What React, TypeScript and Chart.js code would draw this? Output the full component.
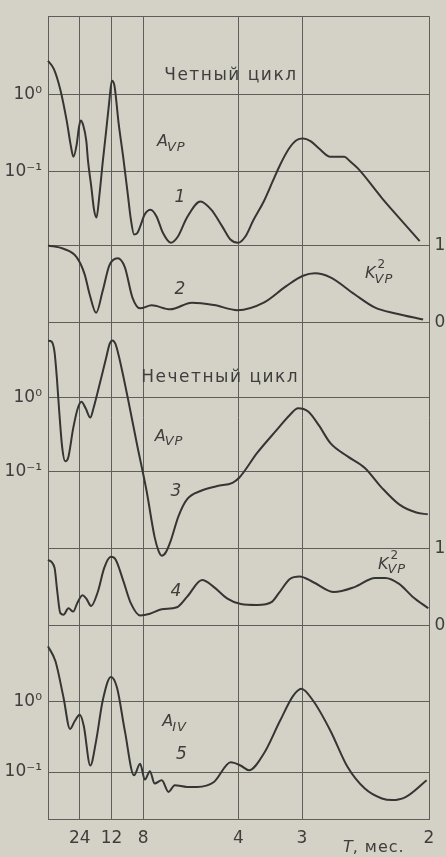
import React, { useEffect, useRef } from 'react';
import { Chart, registerables } from 'chart.js';

Chart.register(...registerables);

// ---------------- data ----------------
// x axis: frequency 1/T (1/month); tick labels show the period T in months
const periodTickLabels = ['', '24', '12', '8', '4', '3', '2'];
const periodTickMonths = [Infinity, 24, 12, 8, 4, 3, 2];

// curve 1: A_VP, even cycle (log scale)
const freq1 = [0, 0.0076, 0.0162, 0.0247, 0.0298, 0.0334, 0.0375, 0.0408, 0.0430, 0.0459,
  0.0503, 0.0524, 0.0568, 0.0604, 0.0636, 0.0675, 0.0717, 0.0761, 0.0804, 0.0838,
  0.0872, 0.0927, 0.0987, 0.1048, 0.1088, 0.1129, 0.1169, 0.1209, 0.1267, 0.1347,
  0.1426, 0.1506, 0.1612, 0.1705, 0.1824, 0.2001, 0.2142, 0.2288, 0.2394, 0.2496,
  0.2590, 0.2693, 0.2831, 0.2951, 0.3045, 0.3157, 0.3260, 0.3347, 0.3445, 0.3553,
  0.3706, 0.3888, 0.3960, 0.4067, 0.4382, 0.4608, 0.4878];
const amp1 = [2.75, 2.17, 1.16, 0.448, 0.219, 0.155, 0.219, 0.385, 0.461, 0.409,
  0.247, 0.14, 0.063, 0.0316, 0.0249, 0.0493, 0.128, 0.322, 0.81, 1.52,
  1.31, 0.421, 0.153, 0.0493, 0.0234, 0.015, 0.0155, 0.019, 0.0272, 0.0316,
  0.0256, 0.0159, 0.0117, 0.0141, 0.0249, 0.0404, 0.0316, 0.019, 0.0129, 0.0117,
  0.0141, 0.0228, 0.0404, 0.0748, 0.121, 0.194, 0.254, 0.267, 0.247, 0.2,
  0.155, 0.155, 0.136, 0.109, 0.0448, 0.0247, 0.0123];

// curve 2: K²_VP, even cycle (0..1)
const freq2 = [0, 0.0204, 0.0375, 0.048, 0.0546, 0.0632, 0.0717, 0.0804, 0.0914, 0.1008,
  0.1107, 0.1209, 0.136, 0.1603, 0.189, 0.2178, 0.2487, 0.2831, 0.3131, 0.3347,
  0.3504, 0.3706, 0.4023, 0.4293, 0.4563, 0.4923];
const coh2 = [1.0, 0.957, 0.849, 0.63, 0.37, 0.13, 0.41, 0.74, 0.835, 0.72,
  0.33, 0.187, 0.226, 0.174, 0.261, 0.23, 0.164, 0.261, 0.478, 0.608,
  0.64, 0.587, 0.369, 0.196, 0.121, 0.043];

// curve 3: A_VP, odd cycle (log scale)
const freq3 = [0, 0.0047, 0.0085, 0.0117, 0.0149, 0.0187, 0.0225, 0.0264, 0.0331, 0.0391,
  0.0439, 0.0494, 0.0555, 0.0597, 0.0653, 0.0761, 0.0810, 0.0845, 0.0884, 0.0927,
  0.1048, 0.1169, 0.1294, 0.1400, 0.1453, 0.1493, 0.1546, 0.1603, 0.1714, 0.1824,
  0.2001, 0.2222, 0.2421, 0.2509, 0.2745, 0.3002, 0.3174, 0.3282, 0.3414, 0.3553,
  0.3706, 0.3932, 0.4158, 0.4382, 0.4608, 0.4834, 0.4984];
const amp3 = [5.85, 5.7, 4.17, 1.81, 0.616, 0.21, 0.139, 0.154, 0.388, 0.719,
  0.88, 0.719, 0.54, 0.719, 1.2, 3.36, 5.33, 5.9, 5.33, 3.72,
  0.98, 0.232, 0.0552, 0.0131, 0.0085, 0.00744, 0.00824, 0.0112, 0.0255, 0.0426,
  0.0552, 0.0644, 0.0713, 0.0832, 0.18, 0.368, 0.585, 0.719, 0.65, 0.426,
  0.244, 0.162, 0.113, 0.061, 0.0365, 0.0283, 0.0268];

// curve 4: K²_VP, odd cycle (0..1)
const freq4 = [0, 0.0085, 0.012, 0.0162, 0.0204, 0.0268, 0.0331, 0.0382, 0.0452, 0.0503,
  0.0566, 0.0653, 0.0739, 0.0825, 0.0887, 0.0987, 0.1088, 0.1209, 0.1338, 0.1493,
  0.1692, 0.1824, 0.2023, 0.2178, 0.2355, 0.253, 0.2745, 0.2938, 0.3024, 0.3174,
  0.3302, 0.3482, 0.3752, 0.4023, 0.4293, 0.4428, 0.4608, 0.4788, 0.4991];
const coh4 = [0.85, 0.748, 0.454, 0.159, 0.139, 0.222, 0.18, 0.285, 0.391, 0.348,
  0.252, 0.433, 0.748, 0.887, 0.852, 0.58, 0.285, 0.13, 0.151, 0.209,
  0.235, 0.369, 0.588, 0.496, 0.348, 0.277, 0.265, 0.306, 0.411, 0.6,
  0.634, 0.559, 0.432, 0.496, 0.613, 0.613, 0.537, 0.369, 0.222];

// curve 5: A_IV (log scale)
const freq5 = [0, 0.0098, 0.0204, 0.0289, 0.0353, 0.0417, 0.0469, 0.0555, 0.0632, 0.0717,
  0.0826, 0.0906, 0.1008, 0.1129, 0.1209, 0.1271, 0.1338, 0.1398, 0.1493, 0.1582,
  0.1663, 0.1824, 0.1957, 0.2178, 0.2398, 0.2526, 0.2638, 0.2831, 0.3045, 0.3217,
  0.3324, 0.3482, 0.3706, 0.3932, 0.4158, 0.4382, 0.4517, 0.4698, 0.4969];
const amp5 = [6.2, 3.8, 1.15, 0.411, 0.538, 0.655, 0.458, 0.124, 0.281, 1.03,
  2.26, 1.59, 0.389, 0.0898, 0.131, 0.078, 0.103, 0.0685, 0.0764, 0.0521,
  0.0649, 0.0614, 0.0614, 0.0722, 0.138, 0.124, 0.106, 0.182, 0.538, 1.22,
  1.54, 1.03, 0.389, 0.118, 0.0582, 0.042, 0.0398, 0.0443, 0.0764];

const logTickValues = [1, 0.1];
const logTickLabels = ['10⁰', '10⁻¹'];
const linTickValues = [0, 1];
const linTickLabels = ['0', '1'];

const cycleTitles = ['Четный цикл', 'Нечетный цикл'];
const curveNumbers = ['1', '2', '3', '4', '5'];
const axisTitleItalic = 'T';
const axisTitleRest = ', мес.';

// ---------------- layout / style ----------------
const BG = '#d4d1c7';
const INK = '#353533';
const GRID = '#5e5e5a';
const TEXT = '#3e3e3c';
const FAMILY = '"DejaVu Sans", "Liberation Sans", sans-serif';

const panels = [
  { id: 'y1', kind: 'log', min: 0.0108, max: 10.52, h: 231 },
  { id: 'y2', kind: 'lin', min: 0, max: 1, h: 78 },
  { id: 'y3', kind: 'log', min: 0.0094, max: 10.19, h: 227 },
  { id: 'y4', kind: 'lin', min: 0, max: 1, h: 78 },
  { id: 'y5', kind: 'log', min: 0.0214, max: 12.3, h: 195 },
];

const series = [
  { f: freq1, v: amp1, axis: 'y1' },
  { f: freq2, v: coh2, axis: 'y2' },
  { f: freq3, v: amp3, axis: 'y3' },
  { f: freq4, v: coh4, axis: 'y4' },
  { f: freq5, v: amp5, axis: 'y5' },
];

// text anchors in data coordinates
const titleAnchors = [
  { axis: 'y1', x: 0.240, y: 1.76 },
  { axis: 'y3', x: 0.226, y: 1.84 },
];
const numberAnchors = [
  { axis: 'y1', x: 0.173, y: 0.0452 },
  { axis: 'y2', x: 0.173, y: 0.436 },
  { axis: 'y3', x: 0.168, y: 0.0548 },
  { axis: 'y4', x: 0.168, y: 0.433 },
  { axis: 'y5', x: 0.175, y: 0.175 },
];
const symbols = [
  { base: 'A', sub: 'VP', sup: '', axis: 'y1', x: 0.143, y: 0.239 },
  { base: 'K', sub: 'VP', sup: '2', axis: 'y2', x: 0.416, y: 0.628 },
  { base: 'A', sub: 'VP', sup: '', axis: 'y3', x: 0.140, y: 0.299 },
  { base: 'K', sub: 'VP', sup: '2', axis: 'y4', x: 0.433, y: 0.78 },
  { base: 'A', sub: 'IV', sup: '', axis: 'y5', x: 0.150, y: 0.513 },
];
const axisTitleAnchor = { x: 0.387 };

const textPlugin = {
  id: 'figureText',
  afterDatasetsDraw(chart: any) {
    const { ctx, scales, chartArea } = chart;
    const X = scales.x;
    ctx.save();
    ctx.fillStyle = TEXT;
    ctx.textBaseline = 'middle';

    // cycle titles
    ctx.font = `17px ${FAMILY}`;
    ctx.textAlign = 'center';
    (ctx as any).letterSpacing = '1.5px';
    cycleTitles.forEach((t, i) => {
      const a = titleAnchors[i];
      ctx.fillText(t, X.getPixelForValue(a.x), scales[a.axis].getPixelForValue(a.y));
    });
    (ctx as any).letterSpacing = '0px';

    // curve numbers
    ctx.font = `italic 17px ${FAMILY}`;
    curveNumbers.forEach((t, i) => {
      const a = numberAnchors[i];
      ctx.fillText(t, X.getPixelForValue(a.x), scales[a.axis].getPixelForValue(a.y));
    });

    // symbols with sub/superscripts
    ctx.textAlign = 'left';
    symbols.forEach((s) => {
      const px = X.getPixelForValue(s.x);
      const py = scales[s.axis].getPixelForValue(s.y);
      ctx.font = `italic 16px ${FAMILY}`;
      ctx.fillText(s.base, px, py);
      const w = ctx.measureText(s.base).width;
      ctx.font = `italic 13px ${FAMILY}`;
      (ctx as any).letterSpacing = '1px';
      ctx.fillText(s.sub, px + w - 1, py + 5);
      (ctx as any).letterSpacing = '0px';
      if (s.sup) {
        ctx.font = `12px ${FAMILY}`;
        ctx.fillText(s.sup, px + w + 2, py - 9);
      }
    });

    // right-hand labels for the 0..1 panels
    ctx.font = `17px ${FAMILY}`;
    ctx.textAlign = 'center';
    panels.forEach((p) => {
      if (p.kind !== 'lin') return;
      const sc = scales[p.id];
      linTickValues.forEach((v, i) => {
        ctx.fillText(linTickLabels[i], chartArea.right + 11, sc.getPixelForValue(v));
      });
    });

    // axis title
    const tx = X.getPixelForValue(axisTitleAnchor.x);
    const ty = X.bottom - 9;
    ctx.textAlign = 'left';
    ctx.font = `italic 16px ${FAMILY}`;
    ctx.fillText(axisTitleItalic, tx, ty);
    const tw = ctx.measureText(axisTitleItalic).width;
    ctx.font = `16px ${FAMILY}`;
    (ctx as any).letterSpacing = '1px';
    ctx.fillText(axisTitleRest, tx + tw, ty);
    ctx.restore();
  },
};

export default function App() {
  const ref = useRef<HTMLCanvasElement>(null);

  useEffect(() => {
    document.body.style.margin = '0';
    document.body.style.background = BG;
    Chart.defaults.font.family = FAMILY;

    const scales: any = {
      x: {
        type: 'linear',
        position: 'bottom',
        min: 0,
        max: 0.5,
        afterBuildTicks: (s: any) => {
          s.ticks = periodTickMonths.map((p) => ({ value: 1 / p }));
        },
        afterFit: (s: any) => {
          s.height = 38;
        },
        grid: { color: GRID, lineWidth: 1, drawTicks: false },
        border: { color: GRID, width: 1 },
        ticks: {
          autoSkip: false,
          maxRotation: 0,
          padding: 9,
          color: TEXT,
          font: { family: FAMILY, size: 17 },
          callback: (_v: any, i: number) => periodTickLabels[i],
        },
      },
    };

    panels.forEach((p, idx) => {
      const isLog = p.kind === 'log';
      scales[p.id] = {
        type: isLog ? 'logarithmic' : 'linear',
        position: 'left',
        stack: 'panels',
        stackWeight: p.h,
        weight: panels.length - idx,
        min: p.min,
        max: p.max,
        afterBuildTicks: (s: any) => {
          const vals = isLog ? [...logTickValues] : [...linTickValues];
          if (idx === 0) vals.unshift(p.max);
          s.ticks = vals.map((value) => ({ value }));
        },
        afterFit: (s: any) => {
          s.width = 48;
        },
        grid: { color: GRID, lineWidth: 1, drawTicks: false },
        border: { color: GRID, width: 1 },
        ticks: {
          display: isLog,
          padding: 6,
          color: TEXT,
          font: { family: FAMILY, size: 17 },
          callback: (v: any) => {
            const i = logTickValues.indexOf(v);
            return i >= 0 ? logTickLabels[i] : '';
          },
        },
      };
    });

    const chart = new Chart(ref.current!, {
      type: 'line',
      data: {
        datasets: series.map((s) => ({
          data: s.f.map((x, i) => ({ x, y: s.v[i] })),
          yAxisID: s.axis,
          xAxisID: 'x',
          borderColor: INK,
          borderWidth: 2,
          pointRadius: 0,
          fill: false,
          clip: false,
          cubicInterpolationMode: 'monotone' as const,
        })),
      },
      options: {
        responsive: false,
        animation: false,
        layout: { padding: { left: 0, top: 10, right: 17, bottom: 0 } },
        plugins: { legend: { display: false }, tooltip: { enabled: false } },
        scales,
      },
      plugins: [textPlugin],
    });
    return () => chart.destroy();
  }, []);

  return (
    <canvas
      ref={ref}
      width={446}
      height={857}
      style={{ display: 'block', width: 446, height: 857, background: BG }}
    />
  );
}
